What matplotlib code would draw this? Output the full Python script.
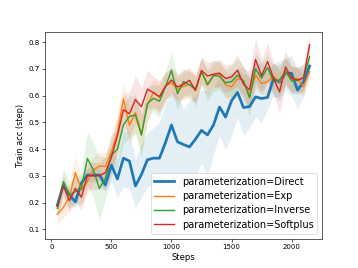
import matplotlib
matplotlib.use("Agg")
import matplotlib.pyplot as plt
import numpy as np

steps = list(range(50, 2151, 50))
labels = ["parameterization=Direct", "parameterization=Exp",
          "parameterization=Inverse", "parameterization=Softplus"]

direct = [0.19, 0.266, 0.228, 0.203, 0.273, 0.303, 0.303, 0.303, 0.266, 0.34, 0.288,
          0.366, 0.355, 0.262, 0.305, 0.36, 0.366, 0.366, 0.424, 0.49, 0.427, 0.417,
          0.408, 0.437, 0.47, 0.453, 0.49, 0.557, 0.52, 0.58, 0.612, 0.555, 0.559,
          0.595, 0.589, 0.593, 0.664, 0.65, 0.684, 0.683, 0.62, 0.652, 0.71]
direct_lo = [0.17, 0.24, 0.2, 0.18, 0.25, 0.28, 0.28, 0.28, 0.24, 0.28, 0.22, 0.26, 0.25,
             0.18, 0.22, 0.26, 0.27, 0.26, 0.3, 0.3, 0.25, 0.25, 0.25, 0.3, 0.35, 0.3,
             0.38, 0.45, 0.4, 0.45, 0.52, 0.45, 0.48, 0.52, 0.5, 0.55, 0.6, 0.58, 0.62,
             0.6, 0.55, 0.6, 0.68]
direct_hi = [0.21, 0.29, 0.25, 0.23, 0.3, 0.33, 0.33, 0.33, 0.3, 0.4, 0.36, 0.47, 0.46,
             0.36, 0.42, 0.46, 0.48, 0.5, 0.57, 0.62, 0.6, 0.55, 0.58, 0.6, 0.62, 0.62,
             0.63, 0.67, 0.66, 0.68, 0.7, 0.68, 0.68, 0.72, 0.72, 0.7, 0.72, 0.73, 0.74,
             0.75, 0.7, 0.7, 0.73]

exp_ = [0.156, 0.182, 0.222, 0.312, 0.247, 0.278, 0.322, 0.337, 0.335, 0.39, 0.46,
        0.587, 0.489, 0.537, 0.458, 0.565, 0.612, 0.593, 0.637, 0.647, 0.622, 0.635,
        0.642, 0.62, 0.69, 0.643, 0.675, 0.68, 0.64, 0.632, 0.664, 0.656, 0.603, 0.677,
        0.645, 0.652, 0.672, 0.652, 0.687, 0.661, 0.664, 0.633, 0.689]
exp_err = [0.04, 0.04, 0.05, 0.06, 0.05, 0.05, 0.05, 0.05, 0.05, 0.06, 0.07, 0.06, 0.07,
           0.07, 0.07, 0.06, 0.05, 0.05, 0.05, 0.05, 0.05, 0.05, 0.05, 0.06, 0.05, 0.05,
           0.04, 0.05, 0.05, 0.05, 0.04, 0.05, 0.06, 0.05, 0.04, 0.05, 0.05, 0.05, 0.05,
           0.05, 0.04, 0.04, 0.03]

inverse = [0.178, 0.278, 0.228, 0.241, 0.253, 0.365, 0.322, 0.253, 0.291, 0.378, 0.399,
           0.49, 0.522, 0.527, 0.452, 0.57, 0.59, 0.579, 0.633, 0.694, 0.607, 0.652,
           0.64, 0.624, 0.69, 0.64, 0.675, 0.672, 0.648, 0.652, 0.676, 0.654, 0.592,
           0.70, 0.665, 0.705, 0.654, 0.658, 0.692, 0.655, 0.657, 0.667, 0.745]
inverse_err = [0.03, 0.05, 0.05, 0.05, 0.06, 0.10, 0.10, 0.12, 0.08, 0.08, 0.07, 0.07,
               0.08, 0.07, 0.08, 0.06, 0.05, 0.06, 0.06, 0.07, 0.06, 0.05, 0.05, 0.05,
               0.05, 0.06, 0.06, 0.05, 0.05, 0.06, 0.06, 0.06, 0.07, 0.06, 0.06, 0.05,
               0.06, 0.06, 0.05, 0.05, 0.05, 0.05, 0.04]

softplus = [0.185, 0.262, 0.207, 0.253, 0.22, 0.30, 0.30, 0.30, 0.312, 0.37, 0.45,
            0.547, 0.532, 0.585, 0.558, 0.624, 0.611, 0.596, 0.634, 0.658, 0.632, 0.642,
            0.657, 0.619, 0.694, 0.673, 0.68, 0.684, 0.664, 0.67, 0.695, 0.642, 0.622,
            0.735, 0.674, 0.727, 0.664, 0.614, 0.707, 0.665, 0.658, 0.666, 0.79]
softplus_err = [0.03, 0.04, 0.04, 0.05, 0.05, 0.05, 0.05, 0.05, 0.06, 0.06, 0.07, 0.06,
                0.08, 0.09, 0.07, 0.07, 0.06, 0.06, 0.05, 0.05, 0.05, 0.05, 0.05, 0.05,
                0.05, 0.05, 0.05, 0.05, 0.05, 0.05, 0.06, 0.06, 0.07, 0.08, 0.06, 0.07,
                0.06, 0.08, 0.06, 0.05, 0.05, 0.05, 0.04]

colors = ["#1f77b4", "#ff7f0e", "#2ca02c", "#d62728"]

fig, ax = plt.subplots(figsize=(358 / 56, 268 / 56), dpi=56)
x = np.array(steps)

ax.fill_between(x, direct_lo, direct_hi, color=colors[0], alpha=0.12, lw=0)
for vals, err, c in [(exp_, exp_err, colors[1]), (inverse, inverse_err, colors[2]),
                     (softplus, softplus_err, colors[3])]:
    v = np.array(vals)
    e = np.array(err)
    ax.fill_between(x, v - e, v + e, color=c, alpha=0.12, lw=0)

ax.plot(x, direct, color=colors[0], lw=3.5, label=labels[0])
ax.plot(x, exp_, color=colors[1], lw=1.8, label=labels[1])
ax.plot(x, inverse, color=colors[2], lw=1.8, label=labels[2])
ax.plot(x, softplus, color=colors[3], lw=1.8, label=labels[3])

ax.set_xlim(-55, 2255)
ax.set_ylim(0.0656, 0.837)
ax.set_yticks([0.1, 0.2, 0.3, 0.4, 0.5, 0.6, 0.7, 0.8])
ax.set_xticks([0, 500, 1000, 1500, 2000])
ax.tick_params(labelsize=9)
ax.set_xlabel("Steps", fontsize=11)
ax.set_ylabel("Train acc (step)", fontsize=10.5)
ax.legend(loc="lower right", fontsize=12.5, handlelength=2.0, labelspacing=0.45)

fig.subplots_adjust(left=0.125, right=0.9, top=0.88, bottom=0.11)
fig.savefig("out.png", dpi=56)
